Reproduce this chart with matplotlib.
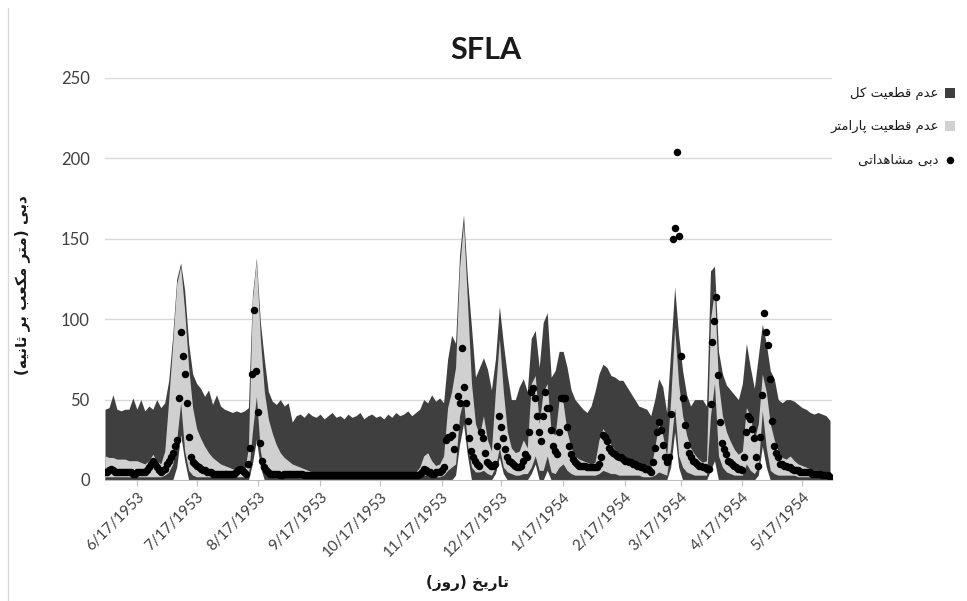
import numpy as np
import matplotlib
matplotlib.use("Agg")
import matplotlib.pyplot as plt
from matplotlib.patches import Rectangle
from matplotlib.lines import Line2D
import datetime as dt

# ---------------- data ----------------
start_date = dt.date(1953, 6, 1)
band_step = 2  # band values every 2 days

total_upper = [
    44, 45, 53, 44, 43, 44, 44, 51, 44, 50,
    43, 46, 44, 50, 45, 48, 62, 90, 125, 135,
    118, 85, 66, 60, 57, 52, 56, 47, 53, 46,
    44, 43, 42, 43, 42, 43, 45, 115, 138, 98,
    75, 55, 49, 47, 50, 46, 48, 36, 40, 41,
    39, 42, 40, 39, 41, 38, 40, 42, 39, 40,
    38, 41, 39, 40, 42, 38, 40, 41, 39, 40,
    38, 41, 39, 42, 40, 41, 43, 40, 42, 44,
    50, 48, 53, 49, 51, 48, 75, 90, 85, 140,
    165, 125, 95, 64, 70, 76, 69, 56, 75, 108,
    85, 65, 50, 50, 58, 63, 55, 88, 93, 70,
    98, 104, 64, 68, 80, 80, 70, 56, 50, 47,
    44, 42, 46, 55, 66, 72, 70, 65, 64, 62,
    62, 58, 54, 50, 46, 45, 44, 40, 50, 63,
    58, 42, 80, 120, 90, 68, 53, 46, 50, 50,
    50, 46, 130, 133, 80, 66, 59, 56, 53, 50,
    60, 85, 70, 57, 77, 97, 85, 68, 63, 50,
    48, 50, 50, 49, 47, 45, 44, 42, 41, 42,
    41, 40, 37,
]

param_upper = [
    15, 14, 14, 13, 13, 13, 12, 12, 12, 11,
    10, 12, 16, 12, 10, 18, 50, 85, 122, 133,
    105, 70, 45, 32, 26, 21, 17, 14, 12, 10,
    9, 8, 7, 6, 6, 5, 20, 112, 137, 88,
    55, 38, 29, 22, 17, 14, 12, 10, 9, 8,
    7, 6, 5, 5, 4, 4, 4, 4, 4, 4,
    4, 4, 4, 4, 4, 4, 4, 4, 4, 4,
    4, 4, 4, 4, 4, 4, 4, 4, 5, 8,
    15, 17, 12, 9, 10, 15, 45, 55, 70, 132,
    160, 110, 60, 35, 28, 40, 25, 18, 55, 88,
    55, 30, 20, 17, 18, 25, 20, 60, 65, 35,
    55, 60, 30, 28, 50, 48, 30, 20, 15, 13,
    12, 11, 10, 11, 25, 32, 28, 22, 19, 17,
    15, 13, 12, 10, 9, 8, 7, 7, 20, 35,
    28, 15, 50, 95, 60, 40, 28, 20, 16, 13,
    11, 12, 100, 118, 60, 40, 30, 24, 19, 16,
    18, 45, 40, 25, 35, 66, 55, 35, 25, 18,
    14, 13, 15, 12, 10, 9, 8, 7, 6, 6,
    5, 5, 5,
]

param_lower = [
    2, 2, 2, 2, 2, 2, 2, 2, 2, 2,
    2, 2, 2, 2, 2, 3, 5, 10, 25, 48,
    18, 6, 3, 2, 2, 2, 2, 2, 2, 2,
    2, 2, 2, 2, 2, 2, 3, 30, 52, 18,
    6, 3, 2, 2, 2, 2, 2, 2, 1.5, 1.5,
    1.5, 1.5, 1.5, 1.5, 1.5, 1.5, 1.5, 1.5, 1.5, 1.5,
    1.5, 1.5, 1.5, 1.5, 1.5, 1.5, 1.5, 1.5, 1.5, 1.5,
    1.5, 1.5, 1.5, 1.5, 1.5, 1.5, 1.5, 1.5, 2, 2,
    3, 3, 2, 2, 2, 3, 6, 8, 10, 40,
    50, 22, 8, 5, 5, 6, 4, 3, 8, 20,
    8, 5, 4, 3, 3, 4, 4, 8, 15, 6,
    6, 15, 5, 4, 8, 10, 6, 4, 3, 3,
    3, 3, 3, 3, 4, 6, 5, 4, 4, 3,
    3, 3, 3, 3, 3, 2, 2, 2, 3, 5,
    4, 3, 20, 45, 15, 8, 5, 4, 3, 3,
    3, 3, 40, 60, 15, 8, 5, 4, 3, 3,
    3, 10, 6, 4, 8, 43, 20, 6, 4, 3,
    3, 3, 3, 3, 2, 2, 2, 2, 2, 2,
    2, 2, 2,
]

total_lower = [
    0, 0, 0, 0, 0, 0, 0, 0, 0, 0,
    0, 0, 0, 0, 0, 0, 0, 0, 8, 28,
    12, 0, 0, 0, 0, 0, 0, 0, 0, 0,
    0, 0, 0, 0, 0, 0, 0, 10, 25, 8,
    0, 0, 0, 0, 0, 0, 0, 0, 0, 0,
    0, 0, 0, 0, 0, 0, 0, 0, 0, 0,
    0, 0, 0, 0, 0, 0, 0, 0, 0, 0,
    0, 0, 0, 0, 0, 0, 0, 0, 0, 0,
    0, 0, 0, 0, 0, 0, 0, 0, 3, 22,
    35, 15, 0, 0, 0, 0, 0, 0, 4, 14,
    4, 0, 0, 0, 0, 0, 0, 4, 10, 0,
    0, 6, 0, 0, 0, 0, 0, 0, 0, 0,
    0, 0, 0, 0, 0, 0, 0, 0, 0, 0,
    0, 0, 0, 0, 0, 0, 0, 0, 0, 0,
    0, 0, 8, 30, 8, 0, 0, 0, 0, 0,
    0, 0, 6, 12, 0, 0, 0, 0, 0, 0,
    0, 0, 0, 0, 3, 21, 8, 0, 0, 0,
    0, 0, 0, 0, 0, 0, 0, 0, 0, 0,
    0, 0, 0,
]

observed = [
    5, 5, 6, 7, 6, 5, 5, 5, 5, 5,
    5, 5, 5, 5, 4, 4, 5, 5, 5, 5,
    5, 6, 8, 10, 12, 10, 8, 6, 5, 6,
    7, 10, 12, 14, 17, 21, 25, 51, 92, 77,
    66, 48, 27, 14, 11, 10, 9, 8, 7, 6,
    6, 5, 5, 5, 4, 4, 4, 4, 4, 4,
    4, 4, 4, 4, 4, 4, 5, 6, 7, 6,
    5, 4, 10, 20, 66, 106, 68, 42, 23, 12,
    8, 6, 5, 4, 4, 4, 4, 4, 3, 3,
    3.5, 3.5, 3.5, 3.5, 3.5, 3.5, 3.5, 3.5, 3.5, 3.5,
    3.3, 3.3, 3.3, 3.3, 3.3, 3.3, 3.3, 3.3, 3.3, 3.3,
    3.1, 3.1, 3.1, 3.1, 3.1, 3.1, 3.1, 3.1, 3.1, 3.1,
    3, 3, 3, 3, 3, 3, 3, 3, 3, 3,
    2.9, 2.9, 2.9, 2.9, 2.9, 2.9, 2.9, 2.9, 2.9, 2.9,
    2.8, 2.8, 2.8, 2.8, 2.8, 2.8, 2.8, 2.8, 2.8, 2.8,
    2.8, 2.8, 2.8, 2.9, 3, 3, 3, 3, 4, 5,
    7, 6, 5, 5, 4, 4, 5, 5, 5, 6,
    8, 25, 27, 27, 28, 19, 33, 52, 48, 82,
    58, 48, 37, 26, 18, 14, 12, 10, 9, 30,
    26, 17, 11, 10, 9, 9, 10, 21, 40, 33,
    26, 19, 14, 12, 11, 10, 9, 8, 8, 9,
    12, 16, 14, 30, 55, 57, 51, 40, 30, 24,
    40, 55, 45, 45, 31, 21, 18, 16, 30, 51,
    51, 51, 33, 21, 16, 13, 11, 10, 9, 9,
    9, 9, 8, 8, 8, 8, 8, 8, 10, 14,
    28, 27, 24, 20, 18, 17, 16, 15, 14, 14,
    13, 12, 12, 11, 11, 10, 10, 9, 9, 8,
    8, 7, 7, 6, 5, 11, 20, 30, 36, 31,
    22, 14, 11, 14, 41, 150, 157, 204, 152, 77,
    51, 34, 22, 17, 14, 12, 11, 10, 9, 9,
    8, 8, 7, 7, 47, 86, 99, 114, 65, 36,
    23, 19, 16, 12, 11, 10, 9, 8, 7, 7,
    6, 14, 30, 40, 38, 32, 26, 14, 9, 27,
    53, 104, 92, 84, 63, 37, 21, 17, 14, 10,
    10, 9, 9, 8, 8, 7, 6, 6, 6, 5,
    5, 5, 5, 5, 5, 4, 4, 4, 4, 4,
    3, 3, 3, 3, 2,
]

tick_dates = [dt.date(1953, m, 17) for m in range(6, 13)] + \
             [dt.date(1954, m, 17) for m in range(1, 6)]
tick_labels = [f"{d.month}/{d.day}/{d.year}" for d in tick_dates]

title_text = "SFLA"
xlabel_text = "تاریخ (روز)"
ylabel_text = "دبی (متر مکعب بر ثانیه)"
legend_texts = ["عدم قطعیت کل", "عدم قطعیت پارامتر", "دبی مشاهداتی"]

# ------------- Persian shaping (contextual forms + visual order) -------------
_FORMS = {
    'ا': ('\uFE8D', '\uFE8E', None, None),
    'ب': ('\uFE8F', '\uFE90', '\uFE91', '\uFE92'),
    'ت': ('\uFE95', '\uFE96', '\uFE97', '\uFE98'),
    'ث': ('\uFE99', '\uFE9A', '\uFE9B', '\uFE9C'),
    'خ': ('\uFEA5', '\uFEA6', '\uFEA7', '\uFEA8'),
    'د': ('\uFEA9', '\uFEAA', None, None),
    'ر': ('\uFEAD', '\uFEAE', None, None),
    'ز': ('\uFEAF', '\uFEB0', None, None),
    'ش': ('\uFEB5', '\uFEB6', '\uFEB7', '\uFEB8'),
    'ط': ('\uFEC1', '\uFEC2', '\uFEC3', '\uFEC4'),
    'ع': ('\uFEC9', '\uFECA', '\uFECB', '\uFECC'),
    'ق': ('\uFED5', '\uFED6', '\uFED7', '\uFED8'),
    'ل': ('\uFEDD', '\uFEDE', '\uFEDF', '\uFEE0'),
    'م': ('\uFEE1', '\uFEE2', '\uFEE3', '\uFEE4'),
    'ن': ('\uFEE5', '\uFEE6', '\uFEE7', '\uFEE8'),
    'ه': ('\uFEE9', '\uFEEA', '\uFEEB', '\uFEEC'),
    'و': ('\uFEED', '\uFEEE', None, None),
    'پ': ('\uFB56', '\uFB57', '\uFB58', '\uFB59'),
    'ک': ('\uFB8E', '\uFB8F', '\uFB90', '\uFB91'),
    'ی': ('\uFBFC', '\uFBFD', '\uFBFE', '\uFBFF'),
}
_RIGHT_ONLY = set('ادرزو')


def shape(s):
    out = []
    for i, ch in enumerate(s):
        if ch not in _FORMS:
            out.append(ch)
            continue
        iso, fin, ini, med = _FORMS[ch]
        prev = s[i - 1] if i > 0 else ''
        nxt = s[i + 1] if i + 1 < len(s) else ''
        jp = prev in _FORMS and prev not in _RIGHT_ONLY
        jn = ch not in _RIGHT_ONLY and nxt in _FORMS
        if jp and jn:
            out.append(med)
        elif jp:
            out.append(fin)
        elif jn:
            out.append(ini)
        else:
            out.append(iso)
    vis = ''.join(reversed(out))
    return vis.translate(str.maketrans('()', ')('))


# ---------------- figure ----------------
W, H = 967, 601
fig = plt.figure(figsize=(W / 100, H / 100), dpi=100)
fig.patch.set_facecolor('white')

L, R, T, B = 105, 832, 78, 480
ax = fig.add_axes([L / W, 1 - B / H, (R - L) / W, (B - T) / H])

DARK = '#3f3f3f'
LIGHT = '#d0d0d0'

band_days = np.arange(len(total_upper)) * band_step
obs_days = np.arange(len(observed))

ax.fill_between(band_days, 0, total_upper, color=DARK, lw=0, zorder=2)
ax.fill_between(band_days, 0, param_upper, color=LIGHT, lw=0, zorder=3)
ax.fill_between(band_days, 0, param_lower, color=DARK, lw=0, zorder=4)
ax.fill_between(band_days, 0, total_lower, color='white', lw=0, zorder=5)
ax.plot(obs_days, observed, 'o', color='black', ms=5.4, mec='black', mew=0, zorder=6)

ax.set_xlim(0, 365)
ax.set_ylim(0, 250)
ax.set_yticks(np.arange(0, 251, 50))
ax.yaxis.grid(True, color='#d9d9d9', lw=1.0, zorder=0)
ax.set_axisbelow(True)
for s in ['top', 'right', 'left']:
    ax.spines[s].set_visible(False)
ax.spines['bottom'].set_color('#bfbfbf')
ax.spines['bottom'].set_zorder(7)

tick_pos = [(d - start_date).days for d in tick_dates]
ax.set_xticks(tick_pos)
ax.set_xticklabels(tick_labels, rotation=45, ha='right', va='top',
                   rotation_mode='anchor', fontsize=11, color='#404040',
                   family=['Lato', 'DejaVu Sans'])
ax.tick_params(axis='x', length=4, color='#bfbfbf', pad=3)
ax.tick_params(axis='y', length=0, pad=11, labelsize=12, labelcolor='#404040')
for lab in ax.get_yticklabels():
    lab.set_family(['Lato', 'DejaVu Sans'])

fig.text(486 / W, 1 - 50 / H, title_text, ha='center', va='center',
         fontsize=22, fontweight='bold', family=['Lato', 'DejaVu Sans'], color='#1a1a1a')

fig.text(468 / W, 1 - 583 / H, shape(xlabel_text), ha='center', va='center',
         fontsize=11, fontweight='bold', family=['DejaVu Sans'], color='#1a1a1a')
fig.text(22 / W, 1 - 285 / H, shape(ylabel_text), ha='center', va='center',
         rotation=90, fontsize=11, fontweight='bold', family=['DejaVu Sans'], color='#1a1a1a')

# legend (right-to-left: marker on the right)
leg_y = [93, 126, 160]
fig.add_artist(Rectangle((945 / W, 1 - (leg_y[0] + 5) / H), 10 / W, 10 / H,
                         transform=fig.transFigure, facecolor=DARK, edgecolor='none'))
fig.add_artist(Rectangle((945 / W, 1 - (leg_y[1] + 5) / H), 10 / W, 10 / H,
                         transform=fig.transFigure, facecolor=LIGHT, edgecolor='none'))
fig.add_artist(Line2D([950 / W], [1 - leg_y[2] / H], marker='o', color='black',
                      ms=5.4, mew=0, transform=fig.transFigure))
for y, t in zip(leg_y, legend_texts):
    fig.text(939 / W, 1 - y / H, shape(t), ha='right', va='center',
             fontsize=9.5, family=['DejaVu Sans'], color='#1a1a1a')

# chart-area border (left edge visible)
fig.add_artist(Line2D([8 / W, 8 / W], [0, 1 - 8 / H], color='#d9d9d9', lw=1,
                      transform=fig.transFigure))

fig.savefig('out.png', dpi=100, facecolor='white')
